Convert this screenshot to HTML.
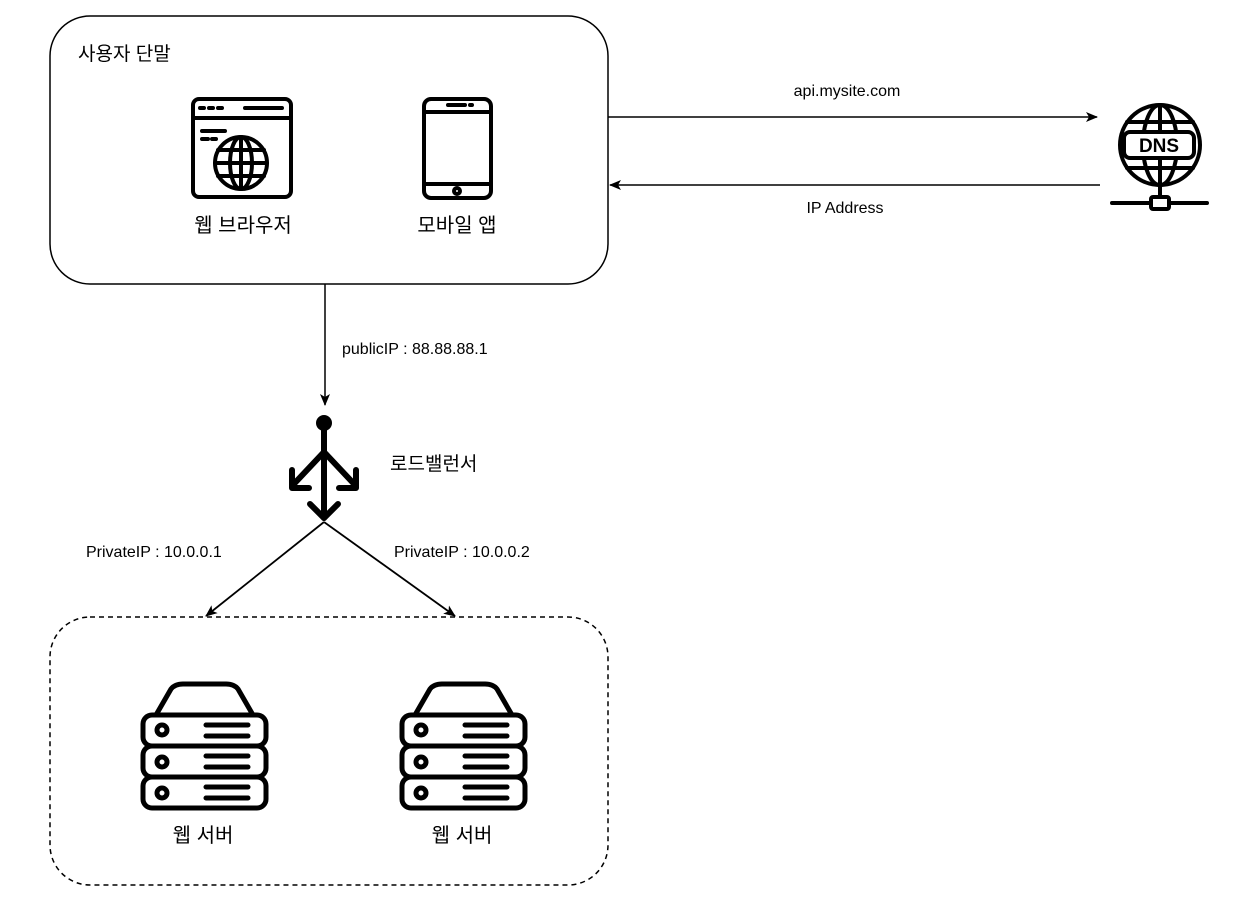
<!DOCTYPE html>
<html><head><meta charset="utf-8"><style>
html,body{margin:0;padding:0;background:#fff;}
svg{display:block;}
text{font-family:"Liberation Sans","Noto Sans CJK KR",sans-serif;fill:#000;}
</style></head><body>
<svg width="1246" height="902" viewBox="0 0 1246 902" xmlns="http://www.w3.org/2000/svg">
<defs>
<marker id="ah" markerWidth="12" markerHeight="10" refX="11" refY="5" orient="auto" markerUnits="userSpaceOnUse">
<path d="M0,0 L12,5 L0,10 L3,5 Z" fill="#000"/></marker>
<g id="srv" fill="none" stroke="#000" stroke-width="5" stroke-linejoin="round" stroke-linecap="round">
<path d="M18,38 L33,12 Q37,7 45,7 L88,7 Q96,7 100,12 L115,38"/>
<rect x="5" y="38" width="123" height="31" rx="9"/>
<rect x="5" y="69" width="123" height="31" rx="9"/>
<rect x="5" y="100" width="123" height="31" rx="9"/>
<circle cx="24" cy="53" r="5"/><circle cx="24" cy="85" r="5"/><circle cx="24" cy="116" r="5"/>
<path d="M68,48 H110 M68,59 H110 M68,79 H110 M68,90 H110 M68,110 H110 M68,121 H110"/>
</g>
</defs>

<rect x="50" y="16" width="558" height="268" rx="40" fill="none" stroke="#000" stroke-width="1.5"/>
<text x="78" y="60" font-size="19">사용자 단말</text>

<g fill="none" stroke="#000" stroke-width="4" stroke-linecap="round">
<rect x="193" y="99" width="98" height="98" rx="6"/>
<path d="M193,118 H291"/>
<path d="M200,108 H204 M209,108 H213 M218,108 H222 M245,108 H282"/>
<path d="M202,131 H225 M202,139 H208 M212,139 H216"/>
<circle cx="241" cy="163" r="26"/>
<ellipse cx="241" cy="163" rx="11" ry="26"/>
<path d="M215,163 H267 M218,150 H264 M218,176 H264 M241,137 V189"/>
</g>
<text x="243" y="232" font-size="20" text-anchor="middle">웹 브라우저</text>

<g fill="none" stroke="#000" stroke-width="4" stroke-linecap="round">
<rect x="424" y="99" width="67" height="99" rx="7"/>
<path d="M424,112 H491 M424,184 H491 M448,105 H465 M470,105 H472"/>
<circle cx="457" cy="191" r="3"/>
</g>
<text x="457" y="232" font-size="20" text-anchor="middle">모바일 앱</text>

<line x1="608" y1="117" x2="1097" y2="117" stroke="#000" stroke-width="1.5" marker-end="url(#ah)"/>
<line x1="1100" y1="185" x2="610" y2="185" stroke="#000" stroke-width="1.5" marker-end="url(#ah)"/>
<text x="847" y="96" font-size="16" text-anchor="middle">api.mysite.com</text>
<text x="845" y="213" font-size="16" text-anchor="middle">IP Address</text>

<g fill="none" stroke="#000" stroke-width="4" stroke-linecap="round">
<circle cx="1160" cy="145" r="40"/>
<ellipse cx="1160" cy="145" rx="17" ry="40"/>
<path d="M1160,105 V132 M1160,158 V185 M1127,122 H1193 M1127,168 H1193"/>
<rect x="1124" y="132" width="70" height="26" rx="6" fill="#fff"/>
<path d="M1160,185 V197 M1112,203 H1151 M1169,203 H1207"/>
<rect x="1151" y="197" width="18" height="12" rx="2"/>
</g>
<text x="1159" y="152" font-size="19" font-weight="bold" text-anchor="middle">DNS</text>

<line x1="325" y1="284" x2="325" y2="405" stroke="#000" stroke-width="1.5" marker-end="url(#ah)"/>
<text x="342" y="354" font-size="16">publicIP : 88.88.88.1</text>

<g fill="none" stroke="#000" stroke-width="6" stroke-linecap="round" stroke-linejoin="round">
<circle cx="324" cy="423" r="8" fill="#000" stroke="none"/>
<path d="M324,423 V518"/>
<path d="M324,452 L292,486 M292,470 V488 H309"/>
<path d="M324,452 L356,486 M356,470 V488 H339"/>
<path d="M310,504 L324,518 L338,504"/>
</g>
<text x="390" y="470" font-size="19">로드밸런서</text>

<line x1="324" y1="522" x2="206" y2="616" stroke="#000" stroke-width="1.8" marker-end="url(#ah)"/>
<line x1="324" y1="522" x2="455" y2="616" stroke="#000" stroke-width="1.8" marker-end="url(#ah)"/>
<text x="86" y="557" font-size="16">PrivateIP : 10.0.0.1</text>
<text x="394" y="557" font-size="16">PrivateIP : 10.0.0.2</text>

<rect x="50" y="617" width="558" height="268" rx="40" fill="none" stroke="#000" stroke-width="1.5" stroke-dasharray="5,4"/>

<use href="#srv" x="138" y="677"/>
<use href="#srv" x="397" y="677"/>
<text x="203" y="842" font-size="20" text-anchor="middle">웹 서버</text>
<text x="462" y="842" font-size="20" text-anchor="middle">웹 서버</text>
</svg>
</body></html>
